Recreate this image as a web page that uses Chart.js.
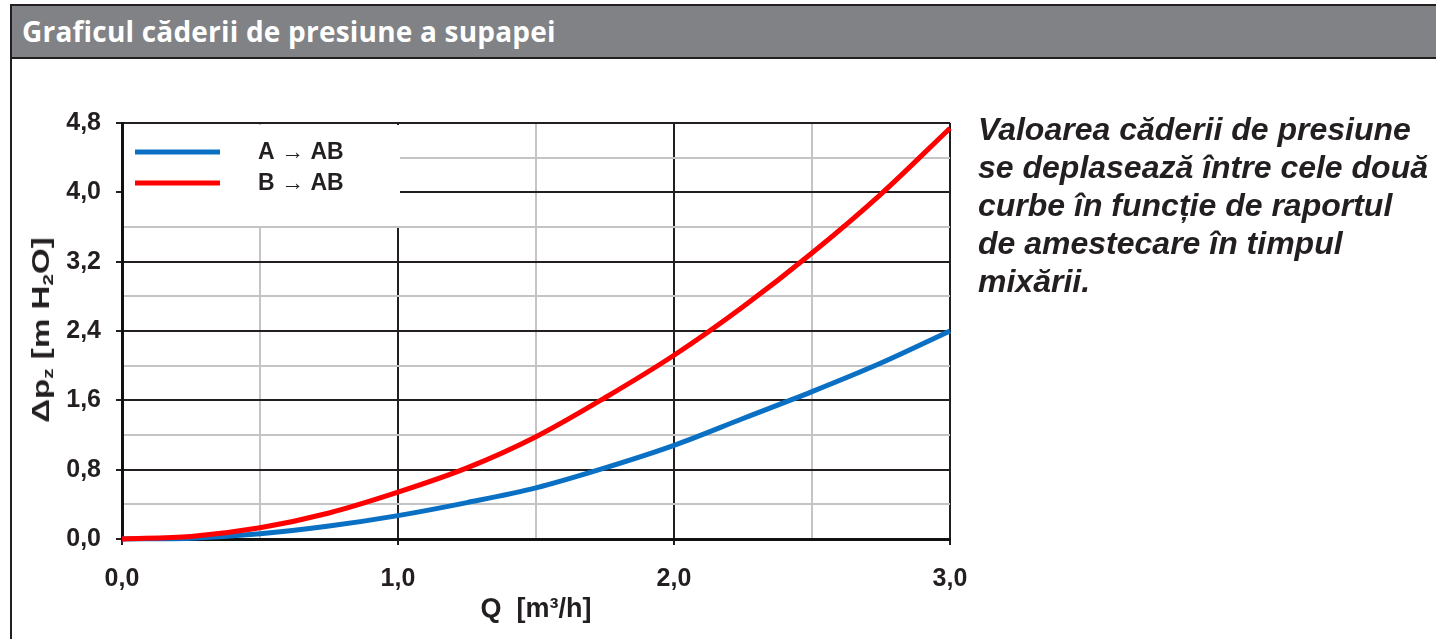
<!DOCTYPE html>
<html lang="ro">
<head>
<meta charset="utf-8">
<title>Graficul căderii de presiune a supapei</title>
<script src="https://cdn.jsdelivr.net/npm/chart.js@4.4.1/dist/chart.umd.min.js"></script>
<style>
  html, body { margin: 0; padding: 0; background: #fff; }
  body {
    width: 1436px; height: 639px; overflow: hidden; position: relative;
    font-family: "Liberation Sans", Arial, sans-serif; color: #231f20;
  }
  #frame {
    position: absolute; left: 10px; top: 4px; width: 1500px; height: 700px;
    border-left: 2px solid #231f20; border-top: 2px solid #231f20;
  }
  #header {
    position: absolute; left: 0; right: 0; top: 0; height: 51px;
    padding-left: 10px;
    background: #808285; border-bottom: 2px solid #231f20;
    color: #fff; font-family: "Open Sans", sans-serif; font-weight: 700;
    font-size: 28px; letter-spacing: 0.2px; line-height: 50px; white-space: nowrap;
  }
  #chart { position: absolute; left: 0; top: 0; }
  #ytitle {
    position: absolute; left: 41px; top: 330px;
    transform: translate(-50%, -50%) rotate(-90deg) scaleX(1.38);
    font-weight: 700; font-size: 24px; white-space: nowrap;
  }
  #ytitle sub { font-size: 15px; vertical-align: -4px; line-height: 0; }
  #note {
    position: absolute; left: 978px; top: 110px;
    font-weight: 700; font-style: italic; font-size: 32px;
    line-height: 38px; white-space: nowrap; color: #231f20;
  }
</style>
</head>
<body>
<div id="frame"><div id="header">Graficul căderii de presiune a supapei</div></div>
<canvas id="chart" width="990" height="639"></canvas>
<div id="ytitle">Δp<sub>z</sub> [m H<sub>2</sub>O]</div>
<div id="note">Valoarea căderii de presiune<br>se deplasează între cele două<br>curbe în funcție de raportul<br>de amestecare în timpul<br>mixării.</div>
<script>
(function () {
  "use strict";

  // flow Q [m3/h] and pressure drop [m H2O]
  var flowQ     = [0, 0.25, 0.5, 0.75, 1.0, 1.25, 1.5, 1.75, 2.0, 2.25, 2.5, 2.75, 3.0];
  var dropAtoAB = [0, 0.01, 0.06, 0.15, 0.27, 0.42, 0.59, 0.82, 1.08, 1.39, 1.70, 2.03, 2.40];
  var dropBtoAB = [0, 0.03, 0.13, 0.30, 0.54, 0.82, 1.18, 1.63, 2.12, 2.68, 3.30, 3.98, 4.74];
  var seriesLabels = ["A \u2192 AB", "B \u2192 AB"];

  var xMajorTicks = [0, 1, 2, 3];
  var xTickText   = ["0,0", "1,0", "2,0", "3,0"];
  var yMajorTicks = [0, 0.8, 1.6, 2.4, 3.2, 4.0, 4.8];
  var yTickText   = ["0,0", "0,8", "1,6", "2,4", "3,2", "4,0", "4,8"];

  var ink = "#231f20";
  var minorGrid = "#c4c4c4";
  var labelFont = "'Liberation Sans', Arial, sans-serif";

  function majorIndex(list, value) {
    for (var i = 0; i < list.length; i++) {
      if (Math.abs(list[i] - value) < 1e-6) return i;
    }
    return -1;
  }

  function toPoints(ys) {
    return flowQ.map(function (q, i) { return { x: q, y: ys[i] }; });
  }

  // white inset legend box in the upper left corner, over the grid
  var insetLegend = {
    id: "insetLegend",
    beforeDatasetsDraw: function (chart) {
      var ctx = chart.ctx;
      var area = chart.chartArea;
      var xs = chart.scales.x, ys = chart.scales.y;
      var right = xs.getPixelForValue(1.0) + 2;
      var bottom = ys.getPixelForValue(3.6) - 1;
      ctx.save();
      ctx.fillStyle = "#fff";
      ctx.fillRect(area.left + 2, area.top + 2, right - area.left - 2, bottom - area.top - 2);
      ctx.font = "bold 23px " + labelFont;
      ctx.textBaseline = "middle";
      ctx.fillStyle = ink;
      chart.data.datasets.forEach(function (ds, i) {
        var y = area.top + 29 + i * 31;
        ctx.strokeStyle = ds.borderColor;
        ctx.lineWidth = 5;
        ctx.beginPath();
        ctx.moveTo(area.left + 13, y);
        ctx.lineTo(area.left + 98, y);
        ctx.stroke();
        ctx.fillText(ds.label, area.left + 136, y + 1);
      });
      ctx.restore();
    }
  };

  function gridColor(list) {
    return function (c) { return majorIndex(list, c.tick.value) < 0 ? minorGrid : ink; };
  }
  function tickColor(list) {
    return function (c) { return majorIndex(list, c.tick.value) < 0 ? "rgba(0,0,0,0)" : ink; };
  }

  new Chart(document.getElementById("chart"), {
    type: "line",
    data: {
      datasets: [
        {
          label: seriesLabels[0],
          data: toPoints(dropAtoAB),
          borderColor: "#0a70c4",
          borderWidth: 5,
          pointRadius: 0,
          cubicInterpolationMode: "monotone",
          clip: 8,
          order: 1
        },
        {
          label: seriesLabels[1],
          data: toPoints(dropBtoAB),
          borderColor: "#ff0000",
          borderWidth: 5,
          pointRadius: 0,
          cubicInterpolationMode: "monotone",
          clip: 8,
          order: 0
        }
      ]
    },
    options: {
      responsive: false,
      animation: false,
      events: [],
      layout: { padding: { left: 0, top: 123, right: 40, bottom: 0 } },
      plugins: { legend: { display: false }, tooltip: { enabled: false } },
      scales: {
        x: {
          type: "linear",
          min: 0,
          max: 3,
          afterFit: function (scale) { scale.height = 100; },
          ticks: {
            stepSize: 0.5,
            autoSkip: false,
            maxRotation: 0,
            padding: 19,
            color: ink,
            font: { family: labelFont, size: 25, weight: "bold" },
            callback: function (value) {
              var i = majorIndex(xMajorTicks, value);
              return i < 0 ? "" : xTickText[i];
            }
          },
          grid: {
            lineWidth: 2,
            tickLength: 6,
            tickWidth: 2,
            color: gridColor(xMajorTicks),
            tickColor: tickColor(xMajorTicks)
          },
          border: { display: true, color: "#111", width: 3 },
          title: {
            display: true,
            text: "Q  [m³/h]",
            color: ink,
            font: { family: labelFont, size: 27, weight: "bold" },
            padding: { top: 0, bottom: 13 }
          }
        },
        y: {
          type: "linear",
          min: 0,
          max: 4.8,
          afterFit: function (scale) { scale.width = 122; },
          ticks: {
            stepSize: 0.4,
            autoSkip: false,
            padding: 15,
            color: ink,
            font: { family: labelFont, size: 25, weight: "bold" },
            callback: function (value) {
              var i = majorIndex(yMajorTicks, value);
              return i < 0 ? "" : yTickText[i];
            }
          },
          grid: {
            lineWidth: 2,
            tickLength: 6,
            tickWidth: 2,
            color: gridColor(yMajorTicks),
            tickColor: tickColor(yMajorTicks)
          },
          border: { display: true, color: "#111", width: 3 }
        }
      }
    },
    plugins: [insetLegend]
  });
})();
</script>
</body>
</html>
